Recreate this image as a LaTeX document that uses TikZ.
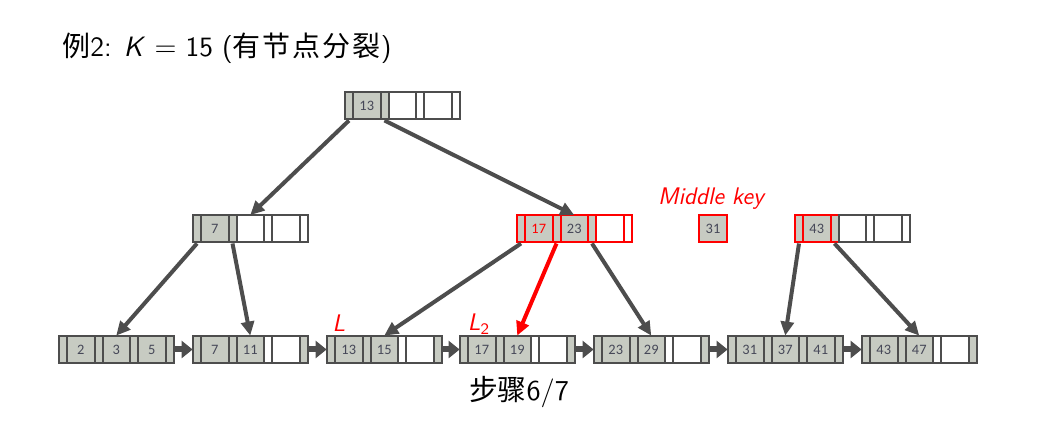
\documentclass[tikz,border=0pt]{standalone}
\usepackage{fontspec}
\usepackage{tikz}
\usetikzlibrary{arrows.meta}
\newfontfamily\cjk{Noto Sans CJK SC}
\newfontfamily\keyfont{Carlito}
\definecolor{ink}{RGB}{77,77,77}
\definecolor{keytext}{RGB}{70,72,88}
\definecolor{cellgray}{RGB}{199,203,194}

% one B+ tree node: name, left x, y, used keys, leaf (1) or inner (0), keys
\newcommand{\btnode}[6]{%
  \node[whole] (#1) at (#2+57.25,#3) {};
  \foreach \j in {0,...,3}{
    \pgfmathtruncatemacro{\g}{#5==1 ? ((\j<#4)||(\j==3)) : (\j<=#4)}
    \ifnum\g=1 \node[slot,ptr,full] (#1-p\j) at (#2+4+35.5*\j,#3) {};
    \else \node[slot,ptr,empty] (#1-p\j) at (#2+4+35.5*\j,#3) {}; \fi
  }
  \foreach \t [count=\m] in #6{
    \ifnum\m>#4 \node[slot,keyw,empty] (#1-k\m) at (#2+21.75+35.5*\m-35.5,#3) {};
    \else \node[slot,keyw,full] (#1-k\m) at (#2+21.75+35.5*\m-35.5,#3) {\t}; \fi
  }
}

\begin{document}
\begin{tikzpicture}[x=0.5pt,y=-0.5pt,
  whole/.style={inner sep=0pt,minimum width=57.25pt,minimum height=13.5pt},
  slot/.style={draw=ink,line width=1pt,inner sep=0pt,minimum height=13.5pt,font=\keyfont\fontsize{7.2}{8}\selectfont,text=keytext},
  ptr/.style={minimum width=4pt},
  keyw/.style={minimum width=13.75pt},
  full/.style={fill=cellgray},
  empty/.style={fill=white},
  link/.style={draw=ink,line width=2pt,-{Triangle[length=7pt,width=6.5pt]}},
  chain/.style={draw=ink,line width=3pt,-{Triangle[length=5.5pt,width=8.5pt]}},
  lbl/.style={text=red,font=\sffamily\itshape\fontsize{12}{14}\selectfont,inner sep=0pt}]
\useasboundingbox (0,0) rectangle (1041,442);

\node[anchor=west,inner sep=0pt,font=\sffamily\fontsize{14}{16}\selectfont] (title) at (62,48)
  {{\cjk 例}2: \textit{K} $=$ 15 ({\cjk 有\kern1pt 节\kern1pt 点\kern1pt 分\kern1pt 裂})};

% root and inner level
\btnode{root}{345}{106}{1}{0}{{13,{},{}}}
\btnode{in7}{193}{229}{1}{0}{{7,{},{}}}
\begin{scope}[slot/.append style={draw=red}]
\btnode{in1723}{517}{229}{2}{0}{{\textcolor{red}{17},23,{}}}
\end{scope}
\node[slot,keyw,full,draw=red] (mid) at (713,229) {31};
\begin{scope}[full/.append style={draw=red}]
\btnode{in43}{795}{229}{1}{0}{{43,{},{}}}
\end{scope}

% leaves
\foreach \n/\x/\k/\ks in {1/59/3/{2,3,5},2/193/2/{7,11,{}},3/327/2/{13,15,{}},4/460/2/{17,19,{}},
  5/594/2/{23,29,{}},6/728/3/{31,37,41},7/862/2/{43,47,{}}}{
  \btnode{lf\n}{\x}{349.5}{\k}{1}{\ks}
}
\foreach \a/\b in {1/2,2/3,3/4,4/5,5/6,6/7}{
  \draw[chain] (lf\a.east) -- (lf\b.west);
}

\draw[link] (root-p0.south) -- (in7.north);
\draw[link] (root-p1.south) -- (in1723.north);
\draw[link] (in7-p0.south) -- (lf1.north);
\draw[link] (in7-p1.south) -- (lf2.north);
\draw[link] (in1723-p0.south) -- (lf3.north);
\draw[link,draw=red] (in1723-p1.south) -- (lf4.north);
\draw[link] (in1723-p2.south) -- (lf5.north);
\draw[link] (in43-p0.south) -- (lf6.north);
\draw[link] (in43-p1.south) -- (lf7.north);

\node[lbl] (midlbl) at (711,199) {Middle key};
\node[lbl] (l1) at (339,323) {L};
\node[lbl] (l2) at (479,324) {L\textsubscript{\upshape 2}};

\node[inner sep=0pt,font=\sffamily\fontsize{14.4}{16}\selectfont] (step) at (519,392) {{\cjk 步骤}6/7};
\end{tikzpicture}
\end{document}
